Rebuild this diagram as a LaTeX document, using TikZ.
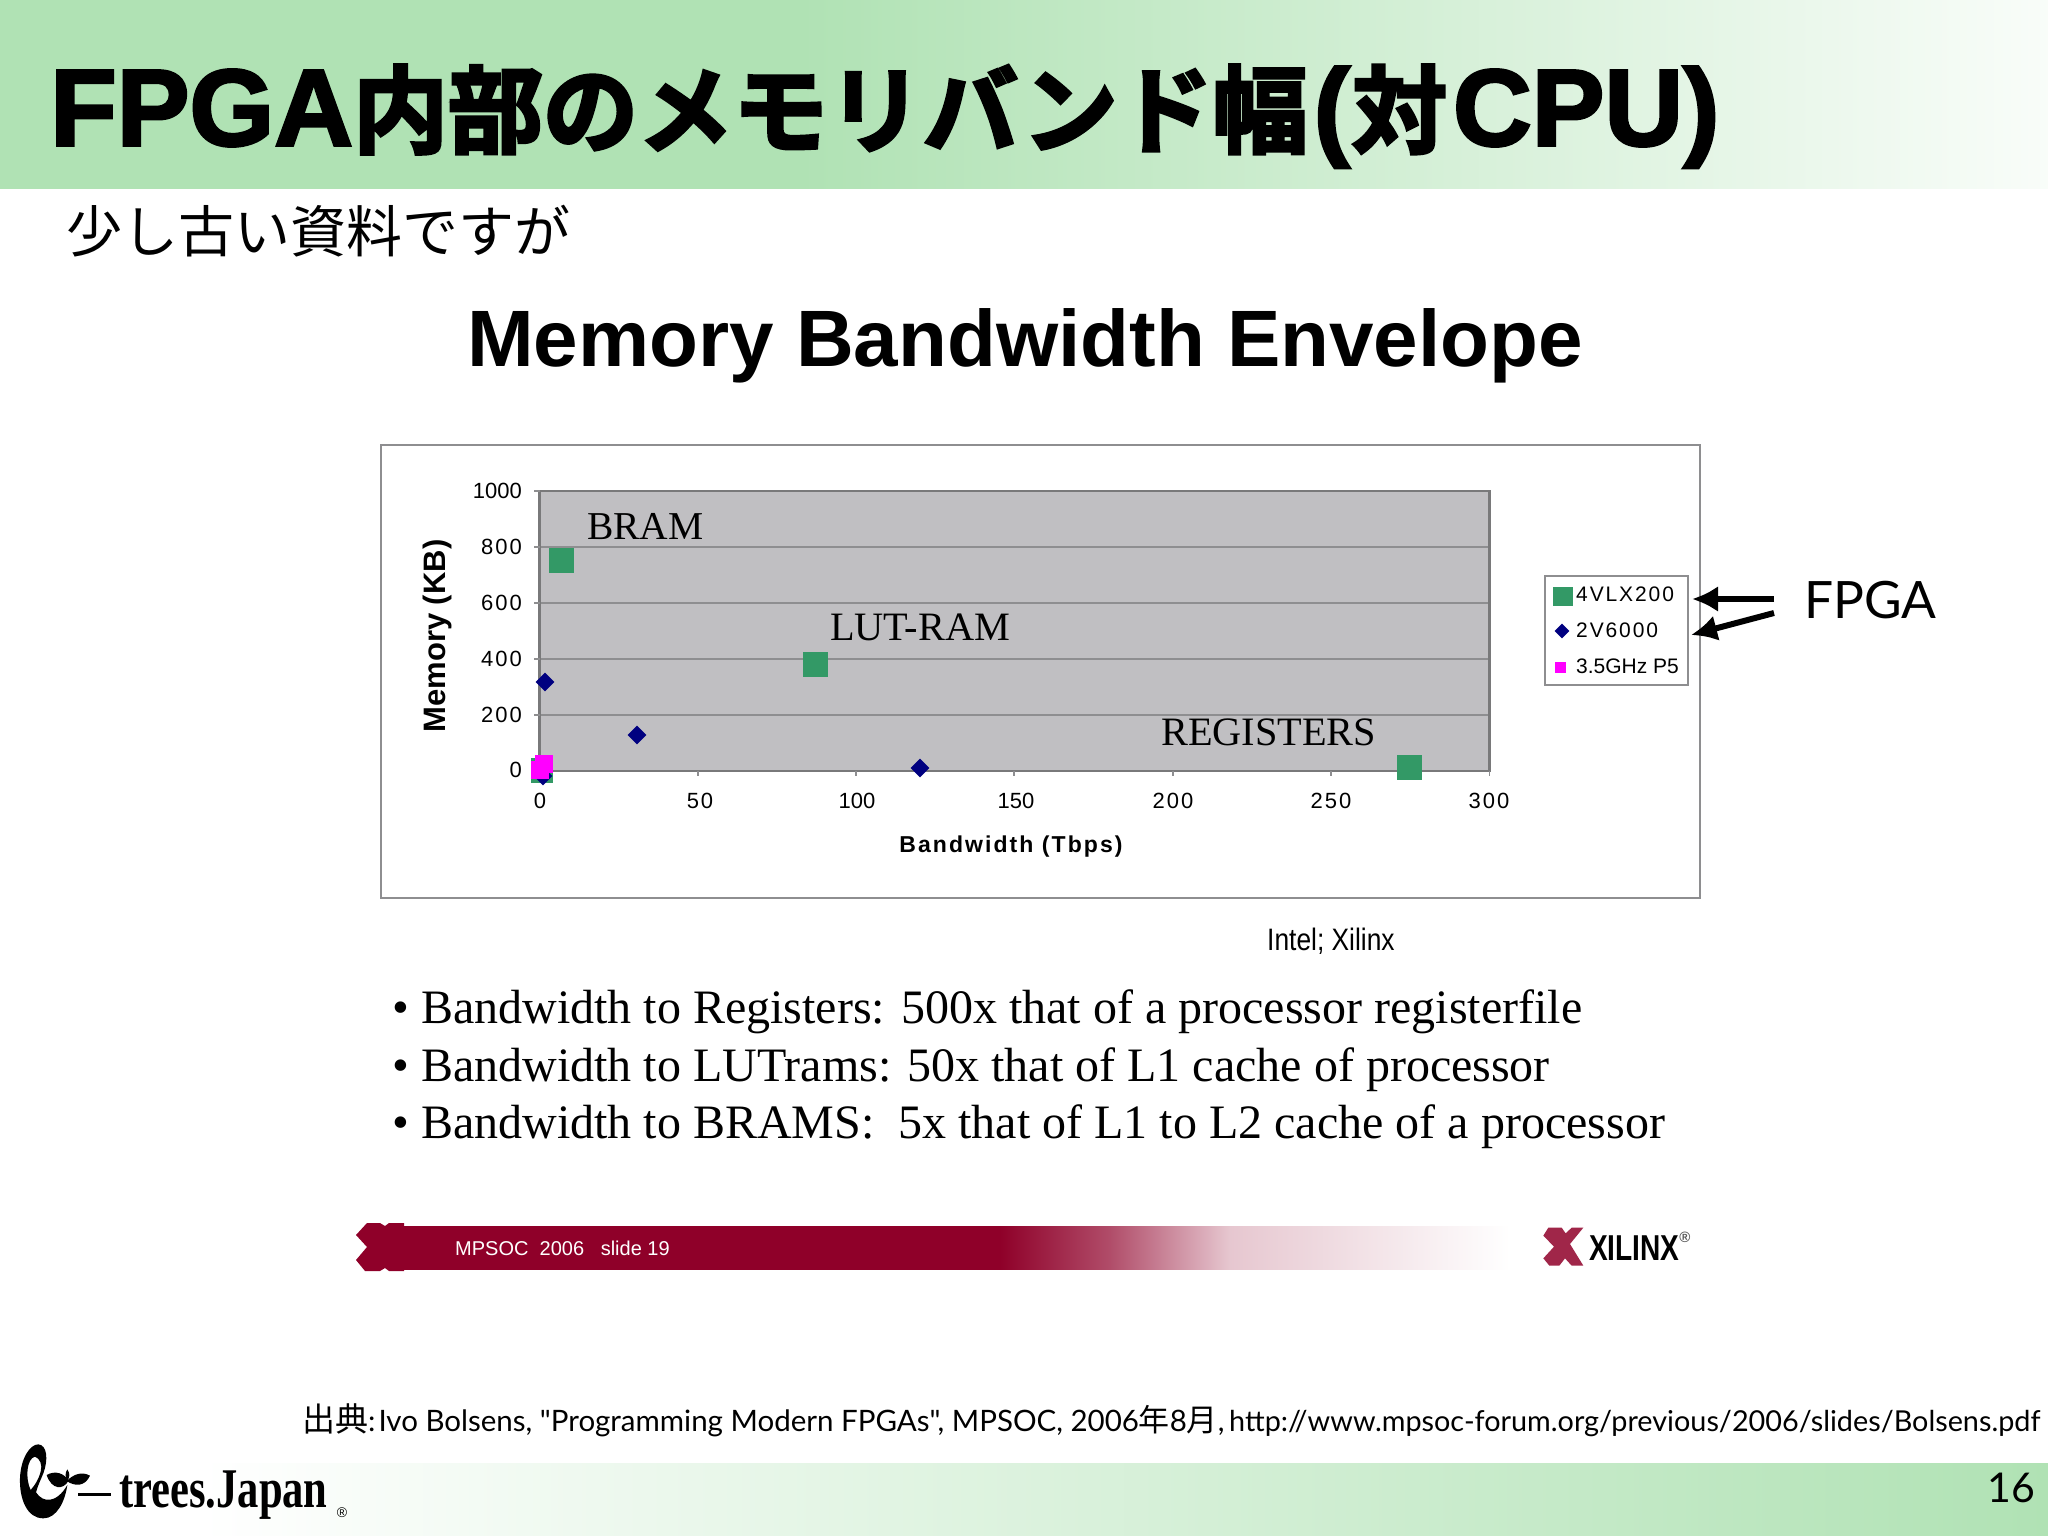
\documentclass[tikz,border=0pt]{standalone}
\usepackage{fontspec}
\usetikzlibrary{shapes.geometric,arrows.meta}
\setmainfont{Liberation Serif}
\newfontfamily\chartfont{Liberation Sans}
\newfontfamily\spacedfont[LetterSpace=9]{Liberation Sans}
\newfontfamily\titlelat[FakeBold=2.5]{Liberation Sans Bold}
\newfontfamily\titlecjk[FakeBold=3.5]{Noto Sans CJK JP Bold}
\newfontfamily\cjkfont{Noto Sans CJK JP}
\newfontfamily\gillfont{Lato}
\newcommand{\fsz}[1]{\fontsize{#1}{#1}\selectfont}
\definecolor{bandgreen}{HTML}{B0E2B4}
\definecolor{plotgrey}{HTML}{C0BFC2}
\definecolor{framegrey}{HTML}{8E8E90}
\definecolor{markgreen}{HTML}{339966}
\definecolor{markblue}{HTML}{000080}
\definecolor{markpink}{HTML}{FF00FF}
\definecolor{xilinxred}{HTML}{8F0029}
\tikzset{
	txt/.style={inner sep=0pt,anchor=base west},
	ticklabel/.style={inner sep=0pt,anchor=center,font=\fsz{22}},
	greenmark/.style={rectangle,fill=markgreen,inner sep=0pt,minimum size=25pt},
	bluemark/.style={diamond,fill=markblue,inner sep=0pt,minimum size=19pt},
	pinkmark/.style={rectangle,fill=markpink,inner sep=0pt,minimum size=18pt},
	bullettxt/.style={txt,font=\fsz{48}},
	plotlabel/.style={txt,font=\fsz{40.3}},
	legendtxt/.style={txt,font=\fsz{21}},
	fpgaarrow/.style={-{Latex[length=26pt,width=26pt]},line width=6pt}
}
\begin{document}
\begin{tikzpicture}[x=1pt,y=-1pt]
	\useasboundingbox (0,0) rectangle (2048,1536);
	\fill[white] (0,0) rectangle (2048,1536);
	\shade[left color=bandgreen,right color=bandgreen] (0,0) rectangle (800,188);
	\shade[left color=bandgreen,right color=bandgreen!8] (800,0) rectangle (2048,188);
	\shade[left color=white,right color=bandgreen] (200,1463) rectangle (2048,1536);
	\node[txt] (title) at (50,145.5) {\fsz{109}\titlelat FPGA{\fsz{95}\titlecjk 内部のメモリバンド幅}\kern6pt(\kern2pt{\fsz{95}\titlecjk 対}\kern6pt CPU)};
	\node[txt,font=\fsz{56}\cjkfont] (subtitle) at (66,252) {少し古い資料ですが};
	\node[txt,font=\fsz{80}\chartfont\bfseries] (slidehead) at (467,366.5) {Memory Bandwidth Envelope};

	\node[draw=framegrey,line width=2pt,fill=white,minimum width=1319pt,minimum height=453pt,inner sep=0pt,anchor=north west] (chartbox) at (379.5,444) {};
	\node[fill=plotgrey,minimum width=950pt,minimum height=280pt,inner sep=0pt,anchor=north west] (plotarea) at (539.5,491) {};
	\foreach \ypos in {547,603,659,715}
	\draw[framegrey,line width=1.5pt] (539.5,\ypos) -- (1489.5,\ypos);
	\draw[framegrey!85!black,line width=2.5pt] (539.5,771) -- (539.5,491) -- (1489.5,491) -- (1489.5,771) -- cycle;
	\foreach \ypos in {491,547,603,659,715,771}
	\draw[framegrey,line width=1.5pt] (534,\ypos) -- (539.5,\ypos);
	\foreach \xpos in {539.5,698,856,1014,1173,1331,1489.5}
	\draw[framegrey,line width=1.5pt] (\xpos,771) -- (\xpos,776);

	\foreach \val/\ypos in {800/547,600/603,400/659,200/715,0/770}
	\node[txt,anchor=east,font=\fsz{22}\spacedfont] (ylab\val) at (522,\ypos) {\val};
	\node[txt,anchor=east,font=\fsz{22}\chartfont] (ylab1000) at (522,491) {1000};
	\foreach \val/\xpos in {0/540,50/700,200/1173,250/1331,300/1489}
	\node[ticklabel,font=\fsz{22}\spacedfont] (xlab\val) at (\xpos,801) {\val};
	\foreach \val/\xpos in {100/857,150/1016}
	\node[ticklabel,font=\fsz{22}\chartfont] (xlab\val) at (\xpos,801) {\val};
	\node[inner sep=0pt,font=\fsz{31}\chartfont\bfseries,rotate=90] (ytitle) at (437,636) {Memory (KB)};
	\node[inner sep=0pt,font=\fsz{23}\spacedfont\bfseries] (xtitle) at (1011,847) {Bandwidth (Tbps)};

	\node[greenmark] (bram) at (561,560) {};
	\node[greenmark] (lutram) at (815.5,664) {};
	\node[greenmark] (regs) at (1409.5,767) {};
	\node[greenmark,minimum width=22pt] (origin) at (542,770) {};
	\node[bluemark] (dia1) at (545,682) {};
	\node[bluemark] (dia2) at (637,735) {};
	\node[bluemark] (dia3) at (920,768) {};
	\node[bluemark] (dia4) at (543,776) {};
	\node[pinkmark] (pink1) at (544,764) {};
	\node[pinkmark] (pink2) at (540,770) {};
	\node[plotlabel,font=\fsz{39.5}] (labbram) at (587,539) {BRAM};
	\node[plotlabel] (lablut) at (830,640) {LUT-RAM};
	\node[plotlabel] (labreg) at (1161,745) {REGISTERS};

	\node[draw=framegrey,line width=1.5pt,fill=white,minimum width=143pt,minimum height=109pt,inner sep=0pt,anchor=north west] (legendbox) at (1544,575) {};
	\node[rectangle,fill=markgreen,inner sep=0pt,minimum size=19.5pt] (leg1) at (1563,596.5) {};
	\node[diamond,fill=markblue,inner sep=0pt,minimum size=15pt] (leg2) at (1562,631) {};
	\node[rectangle,fill=markpink,inner sep=0pt,minimum size=11pt] (leg3) at (1560.5,667) {};
	\node[legendtxt,font=\fsz{21}\spacedfont] (legtxt1) at (1576,601.5) {4VLX200};
	\node[legendtxt,font=\fsz{21}\spacedfont] (legtxt2) at (1576,637.5) {2V6000};
	\node[legendtxt,font=\fsz{21}\chartfont] (legtxt3) at (1576,673.5) {3.5GHz P5};

	\node[txt,font=\fsz{51.5}\gillfont] (fpga) at (1804,618) {FPGA};
	\coordinate (fpgaout1) at (1774,599);
	\coordinate (fpgaout2) at (1774,613);
	\coordinate (legin1) at (1692,599);
	\coordinate (legin2) at (1691,635);
	\foreach \from/\to in {fpgaout1/legin1,fpgaout2/legin2}
	\draw[fpgaarrow] (\from) -- (\to);

	\node[txt,font=\fsz{31}\chartfont] (source) at (1267,950) {\scalebox{0.85}[1]{Intel; Xilinx}};
	\node[bullettxt] (bullet1) at (392,1023) {\makebox[29pt][l]{•}Bandwidth to Registers: 500x that of a processor registerfile};
	\node[bullettxt] (bullet2) at (392,1081) {\makebox[29pt][l]{•}Bandwidth to LUTrams: 50x that of L1 cache of processor};
	\node[bullettxt] (bullet3) at (392,1138) {\makebox[29pt][l]{•}Bandwidth to BRAMS:\ \ 5x that of L1 to L2 cache of a processor};

	\fill[xilinxred] (367,1223) -- (380,1223) -- (385,1226) -- (389,1223) -- (404,1223) -- (404,1271) -- (389,1271) -- (385,1268) -- (380,1271) -- (365,1271) -- (356,1260) -- (367,1247) -- (356,1235) -- cycle;
	\shade[left color=xilinxred,right color=xilinxred] (404,1226) rectangle (1000,1269);
	\shade[left color=xilinxred,right color=xilinxred!70] (1000,1226) rectangle (1110,1269);
	\shade[left color=xilinxred!70,right color=xilinxred!22] (1110,1226) rectangle (1230,1269);
	\shade[left color=xilinxred!22,right color=white] (1230,1226) rectangle (1510,1269);
	\node[txt,font=\fsz{20}\chartfont,text=white] (footertxt) at (455,1255) {MPSOC\ \ 2006\ \ \ slide 19};
	\fill[xilinxred!85!white,shift={(1530,1215)},scale=1/3] (55,38) -- (95,38) -- (107,55) -- (125,38) -- (160,38) -- (120,87) -- (160,152) -- (125,152) -- (105,130) -- (88,152) -- (58,152) -- (40,130) -- (72,95) -- (40,62) -- cycle;
	\node[txt,font=\fsz{36}\chartfont\bfseries] (xilinx) at (1589,1260) {\scalebox{0.78}[1]{XILINX}};
	\node[inner sep=0pt,font=\fsz{15}\chartfont\bfseries,text=black!65] (xilinxreg) at (1685,1237) {®};

	\node[txt,font=\fsz{29.5}\gillfont] (citation) at (302,1431) {{\fsz{33}\cjkfont 出典}:\kern3pt Ivo Bolsens, "Programming Modern FPGAs", MPSOC, 2006{\fsz{31}\cjkfont 年}8{\fsz{31}\cjkfont 月}, \kern-3pt{\fsz{28.8}http://www.mpsoc-forum.org/previous/2006/slides/Bolsens.pdf}};
	\node[txt,font=\fsz{41}\gillfont] (pageno) at (1987,1502) {16};

	\begin{scope}[shift={(10,1435)},scale=1/3]
	\fill[black,even odd rule] (85,28) .. controls (112,30) and (115,75) .. (100,115) .. controls (92,135) and (84,150) .. (78,172) .. controls (100,205) and (140,205) .. (172,150) .. controls (165,200) and (140,250) .. (100,250) .. controls (50,250) and (28,190) .. (30,130) .. controls (32,70) and (60,28) .. (85,28) -- cycle
		(75,65) .. controls (90,70) and (98,90) .. (92,110) .. controls (85,135) and (75,150) .. (62,165) .. controls (45,130) and (50,70) .. (75,65) -- cycle;
	\fill[black] (110,120) .. controls (135,105) and (165,115) .. (175,138) .. controls (160,165) and (125,165) .. (110,120) -- cycle;
	\fill[black] (240,122) .. controls (215,108) and (190,118) .. (170,138) .. controls (195,155) and (225,155) .. (240,122) -- cycle;
	\fill[black] (172,103) .. controls (165,115) and (165,125) .. (172,138) .. controls (180,125) and (180,115) .. (172,103) -- cycle;
	\fill[black] (205,174) rectangle (303,182);
	\end{scope}
	\node[txt,font=\fsz{56}\bfseries] (treeslogo) at (119,1507) {\scalebox{0.76}[1]{trees.Japan}};
	\node[inner sep=0pt,font=\fsz{14}\chartfont] (treesreg) at (342,1513) {®};
\end{tikzpicture}
\end{document}
